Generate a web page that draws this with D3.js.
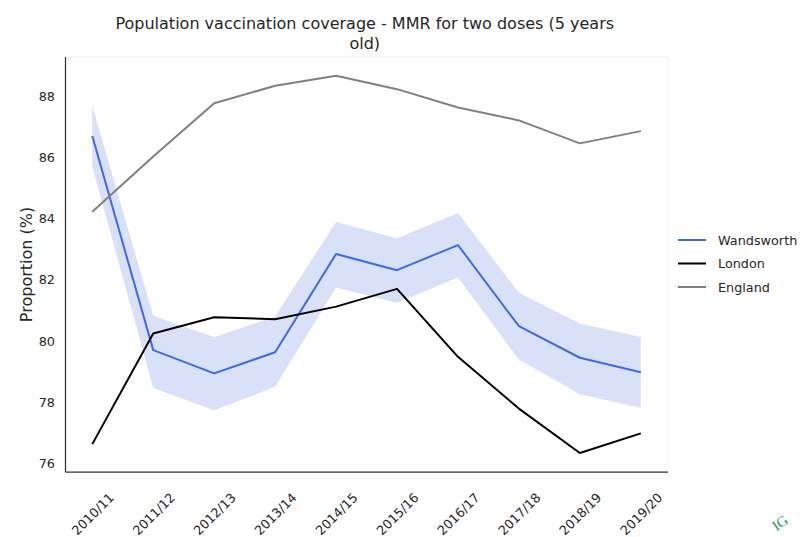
<!DOCTYPE html>
<html>
<head>
<meta charset="utf-8">
<script src="https://cdn.jsdelivr.net/npm/d3@7"></script>
<style>
  html, body { margin: 0; padding: 0; background: #fff; }
  svg { display: block; font-family: "DejaVu Sans", sans-serif; }
</style>
</head>
<body>
<svg id="chart" width="803" height="537"></svg>
<script>
const categories = ["2010/11","2011/12","2012/13","2013/14","2014/15","2015/16","2016/17","2017/18","2018/19","2019/20"];
const wandsworth = [86.69, 79.70, 78.94, 79.63, 82.84, 82.31, 83.13, 80.48, 79.45, 78.98];
const wandsworthLower = [85.69, 78.46, 77.74, 78.50, 81.74, 81.25, 82.07, 79.39, 78.26, 77.82];
const wandsworthUpper = [87.67, 80.82, 80.12, 80.80, 83.88, 83.35, 84.18, 81.57, 80.57, 80.13];
const london = [76.63, 80.24, 80.77, 80.71, 81.12, 81.70, 79.48, 77.79, 76.34, 76.98];
const england = [84.22, 86.02, 87.76, 88.33, 88.66, 88.22, 87.62, 87.20, 86.45, 86.85];
const yTicks = [76, 78, 80, 82, 84, 86, 88];
const seriesNames = ["Wandsworth", "London", "England"];
const seriesColors = ["#4169e1", "#000000", "#808080"];

const svg = d3.select("#chart");
const mLeft = 65.5, mRight = 668, mTop = 57, mBottom = 472;

const x = d3.scalePoint().domain(categories).range([92.3, 640.8]);
const y = d3.scaleLinear().domain([75.72, 89.27]).range([mBottom, mTop]);

// faint axes frame
svg.append("rect").attr("x", mLeft).attr("y", mTop).attr("width", mRight - mLeft).attr("height", mBottom - mTop)
  .attr("fill", "none").attr("stroke", "#f2f2f2").attr("stroke-width", 1);

// CI band
const band = categories.map((c, i) => ({c, lo: wandsworthLower[i], hi: wandsworthUpper[i]}));
svg.append("path").datum(band)
  .attr("fill", "#4169e1").attr("fill-opacity", 0.2)
  .attr("d", d3.area().x(d => x(d.c)).y0(d => y(d.lo)).y1(d => y(d.hi)));

const line = d3.line().x(d => x(d.c)).y(d => y(d.v));
const allSeries = [wandsworth, london, england];
allSeries.forEach((vals, k) => {
  svg.append("path").datum(categories.map((c, i) => ({c, v: vals[i]})))
    .attr("fill", "none").attr("stroke", seriesColors[k]).attr("stroke-width", 2)
    .attr("stroke-linejoin", "round").attr("d", line);
});

// axes
const yAxis = d3.axisLeft(y).tickValues(yTicks).tickSize(0).tickPadding(10.5).tickFormat(d3.format("d"));
const gy = svg.append("g").attr("transform", `translate(${mLeft},0)`).call(yAxis);
gy.select(".domain").remove();
gy.selectAll("text").attr("font-size", "12.8px").attr("fill", "#262626").attr("font-family", "DejaVu Sans");

const xAxis = d3.axisBottom(x).tickSize(0).tickPadding(0);
const gx = svg.append("g").attr("transform", `translate(0,${mBottom})`).call(xAxis);
gx.select(".domain").remove();
gx.selectAll("text")
  .attr("font-size", "12.8px").attr("fill", "#262626").attr("font-family", "DejaVu Sans")
  .attr("text-anchor", "middle").attr("dy", null).attr("y", 0)
  .attr("dominant-baseline", "central")
  .attr("transform", "translate(0,42) rotate(-45)");

// spines
svg.append("line").attr("x1", mLeft).attr("x2", mLeft).attr("y1", mTop).attr("y2", mBottom)
  .attr("stroke", "#333").attr("stroke-width", 1.25);
svg.append("line").attr("x1", mLeft).attr("x2", mRight).attr("y1", mBottom).attr("y2", mBottom)
  .attr("stroke", "#333").attr("stroke-width", 1.25);

// y label
svg.append("text").attr("transform", `translate(32,${(mTop + mBottom) / 2}) rotate(-90)`)
  .attr("text-anchor", "middle").attr("font-size", "16px").attr("fill", "#262626")
  .text("Proportion (%)");

// title
const cx = (mLeft + mRight) / 2 - 2;
svg.append("text").attr("x", cx).attr("y", 29).attr("text-anchor", "middle")
  .attr("font-size", "16px").attr("fill", "#262626")
  .text("Population vaccination coverage - MMR for two doses (5 years");
svg.append("text").attr("x", cx).attr("y", 49).attr("text-anchor", "middle")
  .attr("font-size", "16px").attr("fill", "#262626").text("old)");

// legend
const lg = svg.append("g");
seriesNames.forEach((n, k) => {
  const yy = 240 + k * 23.5;
  lg.append("line").attr("x1", 678).attr("x2", 706).attr("y1", yy).attr("y2", yy)
    .attr("stroke", seriesColors[k]).attr("stroke-width", 2);
  lg.append("text").attr("x", 718).attr("y", yy).attr("dominant-baseline", "central")
    .attr("font-size", "12.8px").attr("fill", "#262626").text(n);
});

// watermark fragment
svg.append("text").attr("transform", "translate(783,527) rotate(-35)")
  .attr("font-family", "Liberation Serif").attr("font-size", "15px").attr("fill", "#2a9a5a")
  .attr("text-anchor", "middle").text("IG");
</script>
</body>
</html>
